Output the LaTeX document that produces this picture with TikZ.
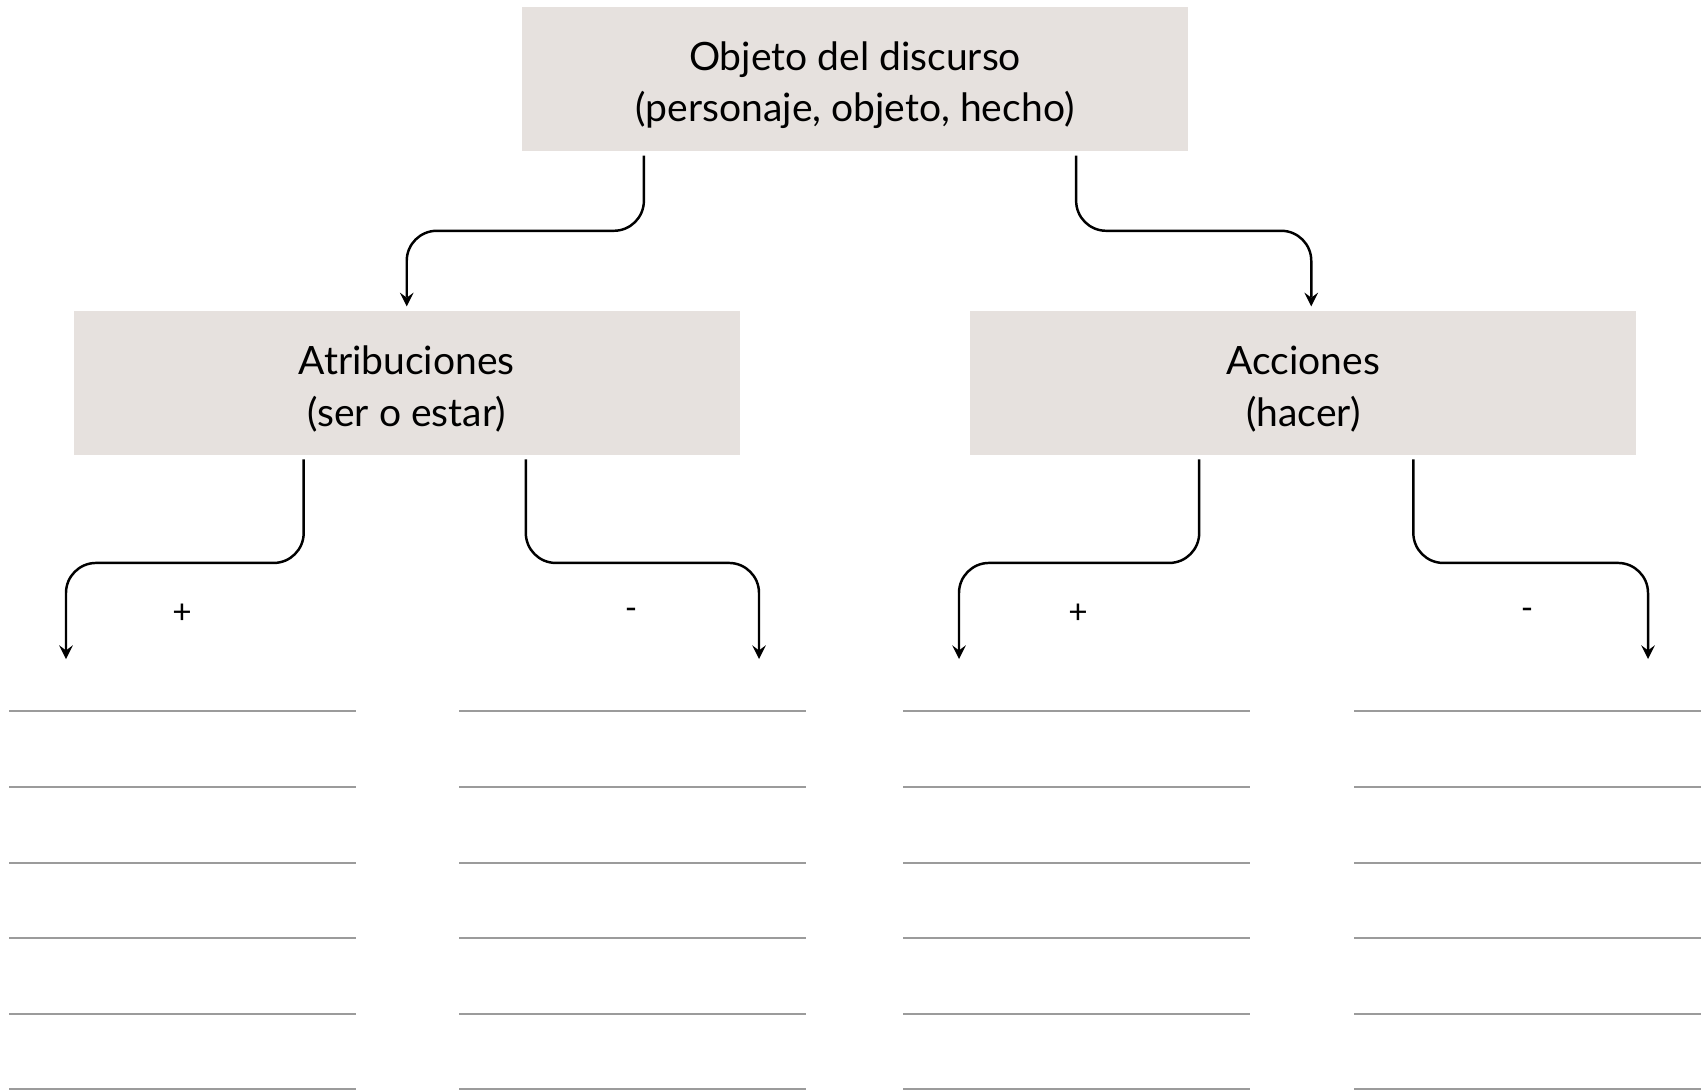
\documentclass[tikz,border=0pt]{standalone}
\usepackage{fontspec}
\setmainfont{Lato}
\usetikzlibrary{arrows, positioning}
\definecolor{boxgray}{HTML}{E6E1DE}
\definecolor{linegray}{HTML}{9B9B9B}
\tikzset{
    >=stealth, % arrow heads
    box/.style={fill=boxgray, minimum width=6.66cm, minimum height=1.44cm, align=center, text height=9.3mm, font=\fontsize{11.1}{14.6}\selectfont}, % grey boxes
    conn/.style={->, line width=0.7pt, rounded corners=0.3cm}, % bent arrows
    writeline/.style={draw=linegray, line width=0.6pt}, % lines to write on
    sign/.style={font=\fontsize{9.5}{9.5}\selectfont},
}
\begin{document}
\begin{tikzpicture}[x=0.01cm, y=-0.01cm]
    \useasboundingbox (0,0) rectangle (1703,1091);
    \node[box] (obj) at (855,79) {Objeto del discurso\\(personaje, objeto, hecho)};
    \node[box, below=1.58cm of obj, xshift=-4.48cm] (atrib) {Atribuciones\\(ser o estar)};
    \node[box, below=1.58cm of obj, xshift=4.48cm] (acc) {Acciones\\(hacer)};
    \coordinate (ap) at (66,659);
    \coordinate (an) at (759,659);
    \coordinate (cp) at (959,659);
    \coordinate (cn) at (1648,659);
    \node[sign] (apsign) at (182,614) {+};
    \node[sign] (ansign) at (631,614) {-};
    \node[sign] (cpsign) at (1078,614) {+};
    \node[sign] (cnsign) at (1527,614) {-};
    \draw[conn, shorten >=1pt] ([xshift=-2.11cm, yshift=-0.04cm]obj.south) |- ([yshift=0.79cm]atrib.north) -- (atrib.north);
    \draw[conn, shorten >=1pt] ([xshift=2.21cm, yshift=-0.04cm]obj.south) |- ([xshift=0.08cm, yshift=0.79cm]acc.north) -- ([xshift=0.08cm]acc.north);
    \draw[conn] ([xshift=-1.03cm, yshift=-0.04cm]atrib.south) |- ([yshift=0.96cm]ap) -- (ap);
    \draw[conn] ([xshift=1.19cm, yshift=-0.04cm]atrib.south) |- ([yshift=0.96cm]an) -- (an);
    \draw[conn] ([xshift=-1.04cm, yshift=-0.04cm]acc.south) |- ([yshift=0.96cm]cp) -- (cp);
    \draw[conn] ([xshift=1.10cm, yshift=-0.04cm]acc.south) |- ([yshift=0.96cm]cn) -- (cn);
    \foreach \x in {9,459,903,1354}
        \foreach \y in {711,787,863,938,1014,1089}
            \draw[writeline] (\x,\y) -- ++(347,0);
\end{tikzpicture}
\end{document}
